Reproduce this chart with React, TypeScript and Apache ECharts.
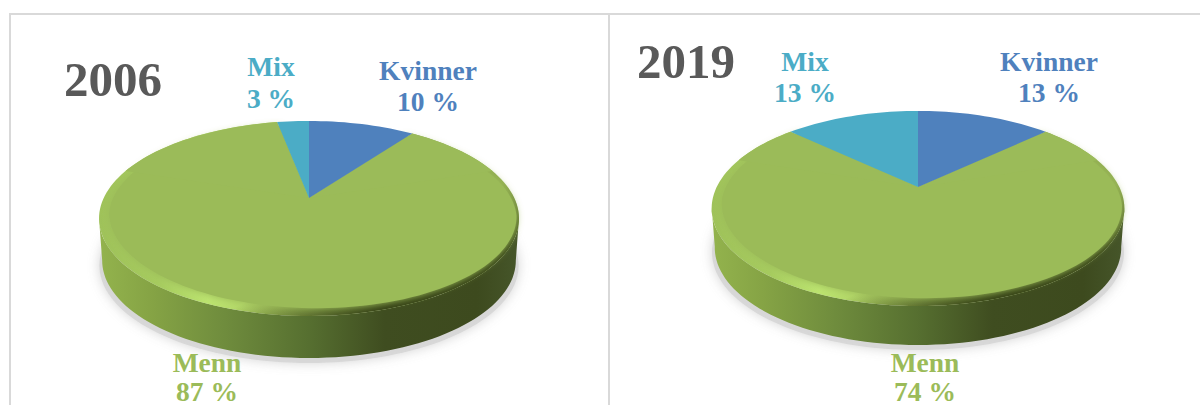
import React, { useEffect, useRef } from "react";
import * as echarts from "echarts";

const categories = ["Kvinner", "Menn", "Mix"];
const values2006 = [10, 87, 3];
const values2019 = [13, 74, 13];
const years = ["2006", "2019"];

const colors: Record<string, string> = { Kvinner: "#4f81bd", Menn: "#9bbb59", Mix: "#4bacc6" };

type Geom = { cx: number; apexY: number; A: number; B: number; k: number; depth: number };
const geom2006: Geom = { cx: 309, apexY: 198, A: 205.3, B: 93.2, k: 0.21, depth: 42 };
const geom2019: Geom = { cx: 918, apexY: 187, A: 201.3, B: 92.8, k: 0.22, depth: 39 };

function rimPoint(g: Geom, theta: number): number[] {
  const u = Math.sin(theta);
  const v = Math.cos(theta);
  const d = 1 + g.k * v;
  return [g.cx + (g.A * u) / d, g.apexY - (g.B * v) / d];
}
function arc(g: Geom, a0: number, a1: number): number[][] {
  const n = Math.max(2, Math.ceil(((a1 - a0) / (2 * Math.PI)) * 180));
  const pts: number[][] = [];
  for (let i = 0; i <= n; i++) pts.push(rimPoint(g, a0 + ((a1 - a0) * i) / n));
  return pts;
}
function inset(g: Geom, p: number[]): number[] {
  const top = g.apexY - g.B / (1 + g.k);
  const t = (p[0] - g.cx) / g.A;
  const sx = 0.97 + 0.018 * t;
  const sy = 0.96 + 0.017 * t;
  const q = [g.cx + (p[0] - g.cx) * sx, top + (p[1] - top) * sy];
  // the soft-edged layer stays clear of the crisp far rim
  const f = 1 - 0.04 * Math.max(0, (g.apexY + 20 - p[1]) / g.B);
  return [g.cx + (q[0] - g.cx) * f, g.apexY + 20 + (q[1] - g.apexY - 20) * f];
}
const grad = (stops: [number, string][]) =>
  new echarts.graphic.LinearGradient(0, 0, 1, 0, stops.map(([offset, color]) => ({ offset, color })));

function baseSeries(g: Geom, z: number) {
  return {
    type: "custom",
    coordinateSystem: "none",
    silent: true,
    z,
    data: [1],
    renderItem: () => {
      const full = arc(g, 0, Math.PI * 2);
      let iMin = 0;
      let iMax = 0;
      full.forEach((p, i) => {
        if (p[0] < full[iMin][0]) iMin = i;
        if (p[0] > full[iMax][0]) iMax = i;
      });
      const front = full.slice(iMax, iMin + 1);
      const lower = (p: number[], sx: number, dy: number) => [g.cx + (p[0] - g.cx) * sx, p[1] + dy];
      const side = [...front, ...front.slice().reverse().map((p) => lower(p, 0.985, g.depth))];
      const shadow = full.map((p) => lower(p, 0.998, g.depth + 5));
      return {
        type: "group",
        children: [
          {
            type: "polygon",
            shape: { points: shadow },
            style: { fill: "rgba(214,214,214,0.9)", shadowBlur: 12, shadowColor: "rgba(205,205,205,0.95)" },
          },
          {
            type: "polygon",
            shape: { points: side },
            style: {
              fill: grad([
                [0, "#93b34d"],
                [0.12, "#86a445"],
                [0.3, "#6f8c3d"],
                [0.5, "#566f30"],
                [0.68, "#3f4d20"],
                [0.9, "#3d4a1e"],
                [1, "#46562a"],
              ]),
            },
          },
        ],
      };
    },
  };
}

function sliceSeries(g: Geom, values: number[], z: number) {
  const total = values.reduce((a, b) => a + b, 0);
  const starts: number[] = [];
  values.reduce((acc, v, i) => {
    starts[i] = acc;
    return acc + v;
  }, 0);
  return {
    type: "custom",
    coordinateSystem: "none",
    silent: true,
    z,
    data: values,
    renderItem: (params: any, api: any) => {
      const i = params.dataIndex;
      const name = categories[i];
      const a0 = (starts[i] / total) * Math.PI * 2;
      const a1 = a0 + (api.value(0) / total) * Math.PI * 2;
      const rim = arc(g, a0, a1);
      const apex = [g.cx, g.apexY];
      if (name !== "Menn") {
        return {
          type: "polygon",
          z2: 5,
          shape: { points: [apex, ...rim] },
          style: { fill: colors[name] },
        };
      }
      const limit = (72 * Math.PI) / 180;
      return {
        type: "group",
        children: [
          {
            type: "polygon",
            z2: 1,
            shape: { points: [apex, ...rim] },
            style: {
              fill: grad([
                [0, "#9fc25a"],
                [0.14, "#a6cb5f"],
                [0.26, "#bce470"],
                [0.42, "#a9ca60"],
                [0.6, "#93b052"],
                [0.78, "#8aa54c"],
                [1, "#93b052"],
              ]),
            },
          },
          {
            type: "polygon",
            z2: 2,
            shape: { points: [apex, ...rim] },
            style: {
              fill: new echarts.graphic.LinearGradient(0, 0, 1, 1, [
                { offset: 0.64, color: "rgba(50,62,20,0)" },
                { offset: 0.82, color: "rgba(50,62,20,0.95)" },
              ]),
            },
          },
          {
            type: "polygon",
            z2: 3,
            shape: { points: [apex, ...rim.map((p) => inset(g, p))] },
            style: { fill: colors.Menn, shadowBlur: 7, shadowColor: colors.Menn },
          },
          {
            type: "polygon",
            z2: 4,
            shape: { points: [apex, ...arc(g, a0, limit)] },
            style: { fill: colors.Menn },
          },
          {
            type: "polygon",
            z2: 4,
            shape: { points: [apex, ...arc(g, Math.PI * 2 - limit, a1)] },
            style: { fill: colors.Menn },
          },
        ],
      };
    },
  };
}

const labelFont = 'bold 27.5px "Liberation Serif"';
function textLine(text: string, fill: string, x: number, y: number) {
  return {
    type: "text",
    z: 20,
    style: { text, x, y, align: "center", verticalAlign: "middle", font: labelFont, fill },
  };
}
function label(name: string, value: number, x: number, y1: number, y2: number) {
  return [textLine(name, colors[name], x, y1), textLine(`${value} %`, colors[name], x, y2)];
}
function title(text: string, x: number, y: number) {
  return {
    type: "text",
    z: 20,
    style: { text, x, y, align: "center", verticalAlign: "middle", font: 'bold 49px "Liberation Serif"', fill: "#595959" },
  };
}
function rule(x: number, y: number, width: number, height: number) {
  return { type: "rect", z: 0, shape: { x, y, width, height }, style: { fill: "#d9d9d9" } };
}

export default function App() {
  const ref = useRef<HTMLDivElement>(null);
  useEffect(() => {
    document.body.style.margin = "0";
    document.body.style.overflow = "hidden";
    const chart = echarts.init(ref.current!, undefined, { renderer: "svg" });
    chart.setOption({
      animation: false,
      backgroundColor: "#ffffff",
      series: [
        baseSeries(geom2006, 1),
        sliceSeries(geom2006, values2006, 2),
        baseSeries(geom2019, 1),
        sliceSeries(geom2019, values2019, 2),
      ],
      graphic: [
        rule(9, 13, 1191, 2),
        rule(9, 13, 2, 392),
        rule(608, 13, 2, 392),
        title(years[0], 113, 79),
        title(years[1], 686, 61),
        ...label(categories[0], values2006[0], 428, 70, 101),
        ...label(categories[2], values2006[2], 271, 66, 98),
        ...label(categories[1], values2006[1], 207, 362, 391),
        ...label(categories[0], values2019[0], 1049, 61, 92),
        ...label(categories[2], values2019[2], 805, 61, 92),
        ...label(categories[1], values2019[1], 925, 362, 391),
      ],
    });
    return () => chart.dispose();
  }, []);
  return <div ref={ref} style={{ position: "absolute", left: 0, top: 0, width: 1200, height: 405 }} />;
}
